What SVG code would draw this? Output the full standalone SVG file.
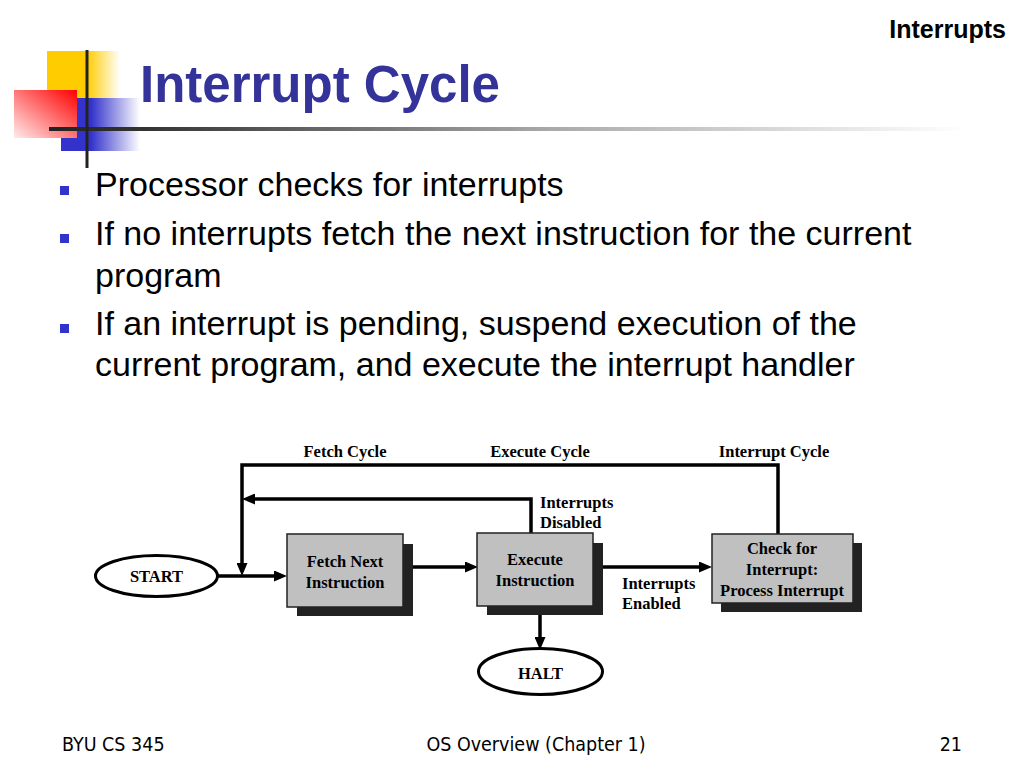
<svg xmlns="http://www.w3.org/2000/svg" width="1024" height="768" viewBox="0 0 1024 768">
<defs>
<linearGradient id="gY" x1="0" y1="0" x2="1" y2="0"><stop offset="0" stop-color="#ffcc00"/><stop offset="0.55" stop-color="#ffcc00"/><stop offset="1" stop-color="#ffcc00" stop-opacity="0"/></linearGradient>
<linearGradient id="gB" x1="0" y1="0" x2="1" y2="0"><stop offset="0" stop-color="#3333cc"/><stop offset="0.38" stop-color="#3333cc"/><stop offset="1" stop-color="#3333cc" stop-opacity="0"/></linearGradient>
<linearGradient id="gR" x1="1" y1="0" x2="0" y2="1"><stop offset="0" stop-color="#ff0000"/><stop offset="1" stop-color="#ffecec"/></linearGradient>
<linearGradient id="gL" x1="0" y1="0" x2="1" y2="0"><stop offset="0" stop-color="#222"/><stop offset="0.1" stop-color="#333"/><stop offset="0.55" stop-color="#aaa"/><stop offset="1" stop-color="#fff"/></linearGradient>
<marker id="ah" markerUnits="userSpaceOnUse" markerWidth="13" markerHeight="11" refX="8" refY="5.5" orient="auto"><path d="M0,0 L13,5.5 L0,11 z" fill="#000"/></marker>
</defs>
<style>
.title{font-family:"Liberation Sans",Arial,sans-serif;font-weight:bold;font-size:51px;fill:#333399}
.hdr{font-family:"Liberation Sans",Arial,sans-serif;font-weight:bold;font-size:25px;fill:#000}
.bul{font-family:"Liberation Sans",Arial,sans-serif;font-size:34px;fill:#000}
.foot{font-family:"DejaVu Sans Condensed","DejaVu Sans",sans-serif;font-size:19.5px;fill:#000}
.lbl{font-family:"Liberation Serif","Times New Roman",serif;font-weight:bold;font-size:16.5px;fill:#000}
.c{text-anchor:middle}
.box{fill:#c0c0c0;stroke:#222;stroke-width:1.5}
.shadow{fill:#222}
.oval{fill:#fff;stroke:#000;stroke-width:3}
.ln{fill:none;stroke:#000;stroke-width:3.5}
.arr{marker-end:url(#ah)}
</style>
<rect width="1024" height="768" fill="#fff"/>
<g id="decoration">
<rect x="47" y="51" width="73" height="47" fill="url(#gY)"/>
<rect x="61" y="98" width="79" height="53" fill="url(#gB)"/>
<rect x="14" y="90" width="63" height="48" fill="url(#gR)"/>
<rect x="49" y="127" width="916" height="4" fill="url(#gL)"/>
<rect x="85.5" y="50" width="3" height="118" fill="#222"/>
</g>
<text class="title" x="140" y="102">Interrupt Cycle</text>
<text class="hdr" x="1006" y="38" text-anchor="end">Interrupts</text>
<g id="bullets">
<rect x="60" y="186" width="9" height="9" fill="#3333cc"/>
<rect x="60" y="234" width="9" height="9" fill="#3333cc"/>
<rect x="60" y="324" width="9" height="9" fill="#3333cc"/>
<text class="bul" x="95" y="196">Processor checks for interrupts</text>
<text class="bul" x="95" y="245">If no interrupts fetch the next instruction for the current</text>
<text class="bul" x="95" y="287">program</text>
<text class="bul" x="95" y="335">If an interrupt is pending, suspend execution of the</text>
<text class="bul" x="95" y="376">current program, and execute the interrupt handler</text>
</g>
<g id="connectors">
<path class="ln arr" d="M778,534 L778,465 L242,465 L242,571"/>
<path class="ln arr" d="M531,533 L531,499 L247,499"/>
<path class="ln arr" d="M218,576 L282,576"/>
<path class="ln arr" d="M413,567 L473,567"/>
<path class="ln arr" d="M603,567 L707,567"/>
<path class="ln arr" d="M540,615 L540,645"/>
</g>
<g id="labels">
<text class="lbl c" x="345" y="457">Fetch Cycle</text>
<text class="lbl c" x="540" y="457">Execute Cycle</text>
<text class="lbl c" x="774" y="457">Interrupt Cycle</text>
<text class="lbl" x="540" y="508">Interrupts</text>
<text class="lbl" x="540" y="528">Disabled</text>
<text class="lbl" x="622" y="589">Interrupts</text>
<text class="lbl" x="622" y="609">Enabled</text>
</g>
<g id="start">
<ellipse class="oval" cx="156.5" cy="576" rx="61" ry="20.5"/>
<text class="lbl c" x="156.5" y="582">START</text>
</g>
<g id="fetch">
<rect class="shadow" x="297" y="544" width="116" height="72"/>
<rect class="box" x="287" y="534" width="116" height="73"/>
<text class="lbl c" x="345" y="567">Fetch Next</text>
<text class="lbl c" x="345" y="588">Instruction</text>
</g>
<g id="execute">
<rect class="shadow" x="487" y="543" width="116" height="72"/>
<rect class="box" x="477" y="533" width="116" height="73"/>
<text class="lbl c" x="535" y="565">Execute</text>
<text class="lbl c" x="535" y="586">Instruction</text>
</g>
<g id="check">
<rect class="shadow" x="721" y="543" width="141" height="69"/>
<rect class="box" x="712" y="534" width="141" height="69"/>
<text class="lbl c" x="782" y="554">Check for</text>
<text class="lbl c" x="782" y="575">Interrupt:</text>
<text class="lbl c" x="782" y="596">Process Interrupt</text>
</g>
<g id="halt">
<ellipse class="oval" cx="540.5" cy="671.5" rx="62" ry="23"/>
<text class="lbl c" x="540.5" y="679">HALT</text>
</g>
<g id="footer">
<text class="foot" x="62" y="751">BYU CS 345</text>
<text class="foot c" x="536" y="751">OS Overview (Chapter 1)</text>
<text class="foot" x="962" y="751" text-anchor="end">21</text>
</g>
</svg>
